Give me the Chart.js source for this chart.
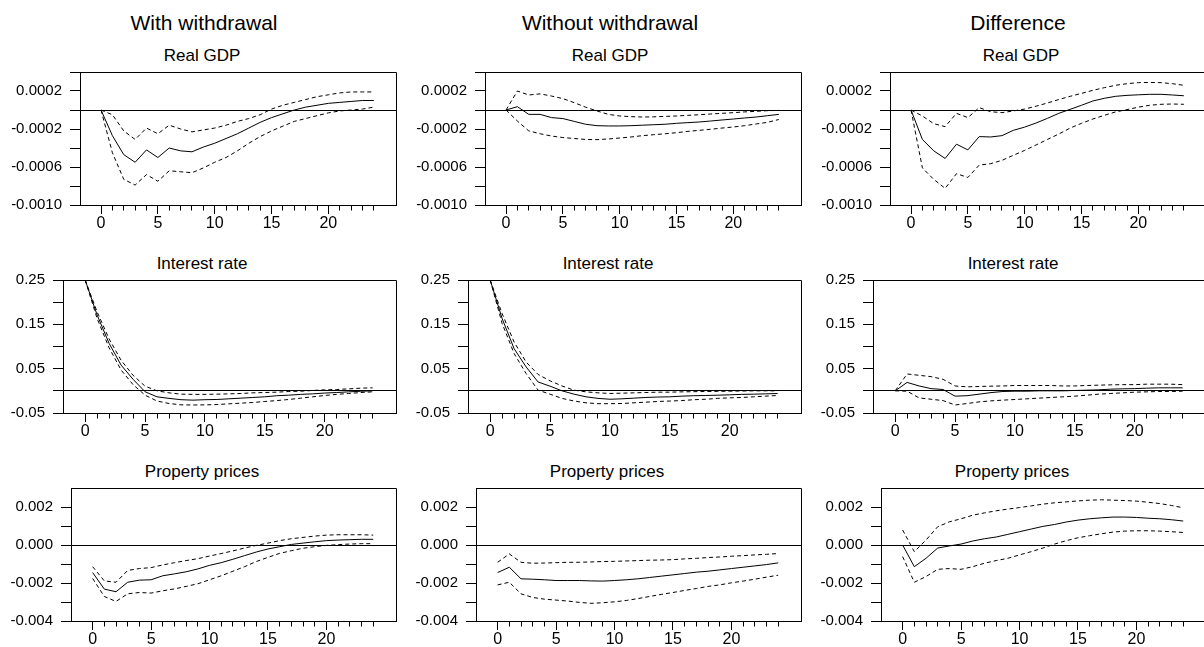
<!DOCTYPE html>
<html>
<head>
<meta charset="utf-8">
<title>Impulse responses</title>
<script src="https://cdn.jsdelivr.net/npm/chart.js@4.4.1/dist/chart.umd.min.js"></script>
<style>
  html, body { margin: 0; padding: 0; background: #fff; overflow: hidden; }
  #page { position: relative; width: 1204px; height: 647px; overflow: hidden; font-family: "Liberation Sans", Arial, sans-serif; color: #000; }
  .head { position: absolute; top: 12px; font-size: 21px; line-height: 21px; white-space: nowrap; transform: translateX(-50%); }
  .sub { position: absolute; font-size: 17px; line-height: 17px; white-space: nowrap; transform: translateX(-50%); }
  .panel { position: absolute; }
</style>
</head>
<body>
<div id="page"></div>
<script>
// horizon (quarters after the shock) and axis ticks
const horizon = [0, 1, 2, 3, 4, 5, 6, 7, 8, 9, 10, 11, 12, 13, 14, 15, 16, 17, 18, 19, 20, 21, 22, 23, 24];
const horizonLabels = [0, 5, 10, 15, 20];

const gdpRange = [-0.0010, 0.0004];
const gdpTicks = [-0.0010, -0.0008, -0.0006, -0.0004, -0.0002, 0, 0.0002, 0.0004];
const gdpLabels = ["-0.0010", "-0.0006", "-0.0002", "0.0002"];

const rateRange = [-0.05, 0.25];
const rateTicks = [-0.05, 0, 0.05, 0.10, 0.15, 0.20, 0.25];
const rateLabels = ["-0.05", "0.05", "0.15", "0.25"];

const priceRange = [-0.004, 0.003];
const priceTicks = [-0.004, -0.003, -0.002, -0.001, 0, 0.001, 0.002];
const priceLabels = ["-0.004", "-0.002", "0.000", "0.002"];

const columnTitles = ["With withdrawal", "Without withdrawal", "Difference"];
const rowTitles = ["Real GDP", "Interest rate", "Property prices"];

// Real GDP
const gdpWithMean = [0, -0.00027, -0.00047, -0.00055, -0.00042, -0.00050, -0.00040, -0.00043, -0.00044, -0.00039, -0.00035, -0.00030, -0.00025, -0.00019, -0.00013, -0.00008, -0.00004, 0.00000, 0.00003, 0.00005, 0.00007, 0.00008, 0.00009, 0.00010, 0.00010];
const gdpWithUpper = [0, -0.00005, -0.00022, -0.00031, -0.00019, -0.00025, -0.00016, -0.00020, -0.00023, -0.00021, -0.00019, -0.00016, -0.00012, -0.00009, -0.00005, 0.00001, 0.00005, 0.00008, 0.00011, 0.00014, 0.00016, 0.00018, 0.00019, 0.00019, 0.00019];
const gdpWithLower = [0, -0.00045, -0.00073, -0.00079, -0.00068, -0.00075, -0.00064, -0.00065, -0.00066, -0.00061, -0.00055, -0.00050, -0.00043, -0.00035, -0.00028, -0.00022, -0.00017, -0.00012, -0.00009, -0.00006, -0.00003, -0.00001, 0.00000, 0.00001, 0.00003];

const gdpWithoutMean = [0, 0.000035, -0.000046, -0.000046, -0.00008, -0.00009, -0.00012, -0.00015, -0.000165, -0.000168, -0.000168, -0.000165, -0.00016, -0.000155, -0.00015, -0.00014, -0.000133, -0.000126, -0.000116, -0.000105, -0.000095, -0.000084, -0.000074, -0.00006, -0.000046];
const gdpWithoutUpper = [0, 0.0002, 0.000158, 0.00017, 0.000147, 0.00012, 0.000077, 0.00003, -0.00001, -0.000046, -0.000063, -0.00007, -0.000074, -0.000072, -0.000067, -0.000063, -0.000056, -0.00005, -0.000042, -0.000035, -0.000028, -0.00002, -0.000014, -0.000007, -0.000004];
const gdpWithoutLower = [0, -0.000116, -0.00022, -0.00025, -0.000274, -0.00029, -0.0003, -0.00031, -0.000312, -0.000305, -0.000295, -0.000284, -0.00027, -0.00026, -0.00025, -0.000239, -0.000225, -0.000214, -0.000203, -0.00019, -0.000179, -0.000165, -0.000147, -0.00013, -0.0001];

const gdpDiffMean = [0, -0.00031, -0.00043, -0.00051, -0.00036, -0.00042, -0.00028, -0.000284, -0.00027, -0.000214, -0.00018, -0.000137, -0.000088, -0.000035, 0.000007, 0.00005, 0.000095, 0.000123, 0.000144, 0.000154, 0.00016, 0.000165, 0.000165, 0.000158, 0.00015];
const gdpDiffUpper = [0, -0.000063, -0.000144, -0.000175, -0.000035, -0.00008, 0.000025, -0.000018, -0.000028, -0.00001, 0.00001, 0.00004, 0.000074, 0.00011, 0.000144, 0.000175, 0.000207, 0.000235, 0.00026, 0.000277, 0.000288, 0.00029, 0.000288, 0.000277, 0.00026];
const gdpDiffLower = [0, -0.00061, -0.00073, -0.000825, -0.00067, -0.00071, -0.00058, -0.000565, -0.00053, -0.000477, -0.000425, -0.000368, -0.00031, -0.000253, -0.00019, -0.00014, -0.000095, -0.000056, -0.00002, 0.000004, 0.00003, 0.00005, 0.00006, 0.000063, 0.00006];

// Interest rate
const rateWithMean = [0.25, 0.171, 0.107, 0.058, 0.026, -0.002, -0.0135, -0.017, -0.02, -0.021, -0.02, -0.0195, -0.018, -0.0165, -0.015, -0.0135, -0.011, -0.0098, -0.008, -0.0068, -0.005, -0.0038, -0.0023, -0.001, 0.0];
const rateWithUpper = [0.25, 0.178, 0.117, 0.069, 0.035, 0.0105, 0.0, -0.0045, -0.0075, -0.008, -0.008, -0.0075, -0.0068, -0.006, -0.0045, -0.0038, -0.003, -0.0015, -0.0008, 0.0008, 0.0023, 0.003, 0.0045, 0.006, 0.0068];
const rateWithLower = [0.25, 0.163, 0.097, 0.047, 0.014, -0.0098, -0.023, -0.0286, -0.0316, -0.032, -0.0316, -0.031, -0.0293, -0.0278, -0.0263, -0.024, -0.022, -0.0195, -0.0165, -0.0135, -0.0105, -0.008, -0.006, -0.0038, -0.0023];

const rateWithoutMean = [0.25, 0.163, 0.095, 0.054, 0.02, 0.0105, 0.0, -0.0075, -0.0135, -0.017, -0.019, -0.018, -0.0165, -0.015, -0.014, -0.0135, -0.012, -0.011, -0.0105, -0.0098, -0.009, -0.008, -0.0075, -0.0068, -0.006];
const rateWithoutUpper = [0.25, 0.174, 0.11, 0.065, 0.037, 0.0225, 0.011, 0.0015, -0.0023, -0.0045, -0.006, -0.0053, -0.0045, -0.0038, -0.003, -0.003, -0.0023, -0.0019, -0.0015, -0.0012, -0.0008, -0.0004, 0.0, 0.0, 0.0];
const rateWithoutLower = [0.25, 0.152, 0.084, 0.039, 0.0015, -0.0075, -0.017, -0.023, -0.027, -0.029, -0.029, -0.0286, -0.027, -0.0256, -0.024, -0.023, -0.022, -0.02, -0.019, -0.017, -0.0158, -0.015, -0.0135, -0.012, -0.0105];

const rateDiffMean = [0, 0.019, 0.011, 0.005, 0.003, -0.012, -0.011, -0.0075, -0.004, -0.0015, -0.0008, -0.0008, 0, 0, 0, 0.0008, 0.0015, 0.0023, 0.0038, 0.0045, 0.005, 0.006, 0.0068, 0.0068, 0.0068];
const rateDiffUpper = [0, 0.038, 0.035, 0.032, 0.026, 0.011, 0.009, 0.0098, 0.0105, 0.011, 0.012, 0.012, 0.012, 0.012, 0.011, 0.011, 0.012, 0.0128, 0.0135, 0.014, 0.014, 0.015, 0.015, 0.015, 0.014];
const rateDiffLower = [0, -0.0008, -0.016, -0.019, -0.022, -0.032, -0.0286, -0.025, -0.0226, -0.021, -0.0195, -0.018, -0.0165, -0.015, -0.0135, -0.012, -0.0098, -0.0075, -0.006, -0.0045, -0.003, -0.0023, -0.0015, -0.0015, -0.0008];

// Property prices
const priceWithMean = [-0.00145, -0.00232, -0.00246, -0.00196, -0.00185, -0.00183, -0.00162, -0.00152, -0.00141, -0.00126, -0.00107, -0.00093, -0.00075, -0.00056, -0.00037, -0.00021, -0.00009, 0.00003, 0.0001, 0.00017, 0.00023, 0.00026, 0.00028, 0.0003, 0.0003];
const priceWithUpper = [-0.00114, -0.00189, -0.00196, -0.00134, -0.00124, -0.00119, -0.00105, -0.00093, -0.00082, -0.00072, -0.00058, -0.00045, -0.00031, -0.00016, -0.00002, 0.0001, 0.00023, 0.00033, 0.0004, 0.00047, 0.00052, 0.00054, 0.00054, 0.00054, 0.00052];
const priceWithLower = [-0.00176, -0.00271, -0.00297, -0.00257, -0.0025, -0.00253, -0.00241, -0.00231, -0.00218, -0.00204, -0.00183, -0.00162, -0.00138, -0.00114, -0.00087, -0.00065, -0.00044, -0.0003, -0.00017, -0.00009, -0.00002, 0.00002, 0.00005, 0.00007, 0.00007];

const priceWithoutMean = [-0.00145, -0.00117, -0.00178, -0.0018, -0.00183, -0.00187, -0.00187, -0.00187, -0.00189, -0.0019, -0.00187, -0.00183, -0.00178, -0.00171, -0.00164, -0.00157, -0.0015, -0.00143, -0.00138, -0.00131, -0.00124, -0.00117, -0.0011, -0.00103, -0.00094];
const priceWithoutUpper = [-0.00091, -0.00047, -0.00091, -0.00096, -0.00095, -0.00093, -0.00091, -0.00091, -0.00089, -0.00087, -0.00086, -0.00084, -0.00082, -0.0008, -0.00079, -0.00077, -0.00073, -0.0007, -0.00066, -0.00063, -0.00059, -0.00056, -0.00052, -0.00049, -0.00045];
const priceWithoutLower = [-0.0021, -0.00196, -0.00257, -0.00276, -0.00285, -0.0029, -0.00295, -0.00302, -0.00307, -0.00304, -0.00299, -0.00292, -0.00282, -0.00271, -0.0026, -0.0025, -0.00239, -0.00229, -0.00218, -0.0021, -0.00199, -0.0019, -0.0018, -0.00169, -0.00159];

const priceDiffMean = [0, -0.00114, -0.0007, -0.00016, -0.00005, 0.00005, 0.00021, 0.00033, 0.00042, 0.00056, 0.0007, 0.00084, 0.00098, 0.00108, 0.00121, 0.00131, 0.00138, 0.00143, 0.00147, 0.00147, 0.00145, 0.00141, 0.00138, 0.00133, 0.00126];
const priceDiffUpper = [0.00079, -0.00035, 0.00026, 0.00096, 0.00122, 0.00138, 0.00157, 0.00169, 0.0018, 0.00189, 0.00197, 0.00206, 0.00215, 0.00222, 0.00227, 0.00232, 0.00236, 0.00238, 0.00236, 0.00234, 0.00231, 0.00225, 0.00218, 0.00208, 0.00196];
const priceDiffLower = [-0.00061, -0.00196, -0.00166, -0.00128, -0.00124, -0.00128, -0.00114, -0.00096, -0.00082, -0.0007, -0.00052, -0.00035, -0.00016, 0.00005, 0.00023, 0.00038, 0.00049, 0.00059, 0.00068, 0.00073, 0.00075, 0.00075, 0.00073, 0.0007, 0.00066];

(function () {
  const pageEl = document.getElementById("page");
  const FONT = '"Liberation Sans", Arial, sans-serif';

  // grid layout of the 3x3 panels
  const columnLeft = [0, 405, 810];
  const headCenter = [204, 610, 1018];
  const rowLayout = [
    { chartTop: 72, axisWidth: 80, subCenter: [202, 610, 1021] },
    { chartTop: 280, axisWidth: 63, subCenter: [202, 608, 1013] },
    { chartTop: 488, axisWidth: 71, subCenter: [202, 607, 1012] },
  ];

  const rows = [
    {
      range: gdpRange, ticks: gdpTicks, labels: gdpLabels,
      series: [
        [gdpWithMean, gdpWithUpper, gdpWithLower],
        [gdpWithoutMean, gdpWithoutUpper, gdpWithoutLower],
        [gdpDiffMean, gdpDiffUpper, gdpDiffLower],
      ],
    },
    {
      range: rateRange, ticks: rateTicks, labels: rateLabels,
      series: [
        [rateWithMean, rateWithUpper, rateWithLower],
        [rateWithoutMean, rateWithoutUpper, rateWithoutLower],
        [rateDiffMean, rateDiffUpper, rateDiffLower],
      ],
    },
    {
      range: priceRange, ticks: priceTicks, labels: priceLabels,
      series: [
        [priceWithMean, priceWithUpper, priceWithLower],
        [priceWithoutMean, priceWithoutUpper, priceWithoutLower],
        [priceDiffMean, priceDiffUpper, priceDiffLower],
      ],
    },
  ];

  const align = (px) => Math.round(px - 0.5) + 0.5;

  // top/right frame and the short unlabeled ticks on the horizon axis
  const framePlugin = {
    id: "frameAndMinorTicks",
    afterDraw(chart) {
      const { ctx, chartArea: area } = chart;
      const xScale = chart.scales.x;
      ctx.save();
      ctx.strokeStyle = "#000";
      ctx.lineWidth = 1;
      ctx.beginPath();
      ctx.moveTo(align(area.left), align(area.top));
      ctx.lineTo(align(area.right), align(area.top));
      ctx.lineTo(align(area.right), align(area.bottom));
      horizon.forEach((step) => {
        if (horizonLabels.includes(step)) {
          return;
        }
        const px = align(xScale.getPixelForValue(step));
        ctx.moveTo(px, align(xScale.top));
        ctx.lineTo(px, align(xScale.top) + 5);
      });
      ctx.stroke();
      ctx.restore();
    },
  };

  const toPoints = (values) => values.map((value, i) => ({ x: horizon[i], y: value }));

  const labelFor = (value, labels) => {
    const match = labels.find((label) => Math.abs(Number(label) - value) < 1e-9);
    return match || "";
  };

  columnTitles.forEach((title, c) => {
    const head = document.createElement("div");
    head.className = "head";
    head.style.left = headCenter[c] + "px";
    head.textContent = title;
    pageEl.appendChild(head);
  });

  rows.forEach((row, r) => {
    const layout = rowLayout[r];
    row.series.forEach((series, c) => {
      const sub = document.createElement("div");
      sub.className = "sub";
      sub.style.left = layout.subCenter[c] + "px";
      sub.style.top = layout.chartTop - 25 + "px";
      sub.textContent = rowTitles[r];
      pageEl.appendChild(sub);

      const holder = document.createElement("div");
      holder.className = "panel";
      holder.style.left = columnLeft[c] + "px";
      holder.style.top = layout.chartTop - 34 + "px";
      const canvas = document.createElement("canvas");
      canvas.width = 400;
      canvas.height = 207;
      holder.appendChild(canvas);
      pageEl.appendChild(holder);

      const [mean, upper, lower] = series;
      const lineStyle = { borderColor: "#000", borderWidth: 1, pointRadius: 0, tension: 0, fill: false };

      new Chart(canvas, {
        type: "line",
        data: {
          datasets: [
            Object.assign({ label: "Upper", data: toPoints(upper), borderDash: [4, 3] }, lineStyle),
            Object.assign({ label: "Response", data: toPoints(mean) }, lineStyle),
            Object.assign({ label: "Lower", data: toPoints(lower), borderDash: [4, 3] }, lineStyle),
          ],
        },
        options: {
          responsive: false,
          animation: false,
          devicePixelRatio: 1,
          layout: { padding: { top: 34, right: 4, left: 0, bottom: 0 } },
          plugins: {
            legend: { display: false },
            tooltip: { enabled: false },
            title: { display: false },
          },
          scales: {
            x: {
              type: "linear",
              min: -1.85,
              max: 25.95,
              afterBuildTicks(scale) {
                scale.ticks = horizon.map((step) => ({ value: step }));
              },
              afterFit(scale) {
                scale.height = 40;
              },
              ticks: {
                autoSkip: false,
                maxRotation: 0,
                padding: 0,
                color: "#000",
                font: { family: FONT, size: 16 },
                callback(value) {
                  return horizonLabels.includes(value) ? String(value) : "";
                },
              },
              grid: {
                drawOnChartArea: false,
                tickLength: 9,
                tickWidth: 1,
                tickColor(context) {
                  return context.tick && horizonLabels.includes(context.tick.value) ? "#000" : "rgba(0,0,0,0)";
                },
              },
              border: { display: true, color: "#000", width: 1 },
            },
            y: {
              min: row.range[0],
              max: row.range[1],
              afterBuildTicks(scale) {
                scale.ticks = row.ticks.map((value) => ({ value }));
              },
              afterFit(scale) {
                scale.width = layout.axisWidth;
              },
              ticks: {
                autoSkip: false,
                padding: 8,
                color: "#000",
                font: { family: FONT, size: 15 },
                callback(value) {
                  return labelFor(value, row.labels);
                },
              },
              grid: {
                drawOnChartArea: true,
                tickLength: 10,
                lineWidth: 1,
                tickWidth: 1,
                color(context) {
                  return context.tick && Math.abs(context.tick.value) < 1e-12 ? "#000" : "rgba(0,0,0,0)";
                },
                tickColor: "#000",
              },
              border: { display: true, color: "#000", width: 1 },
            },
          },
        },
        plugins: [framePlugin],
      });
    });
  });
})();
</script>
</body>
</html>
